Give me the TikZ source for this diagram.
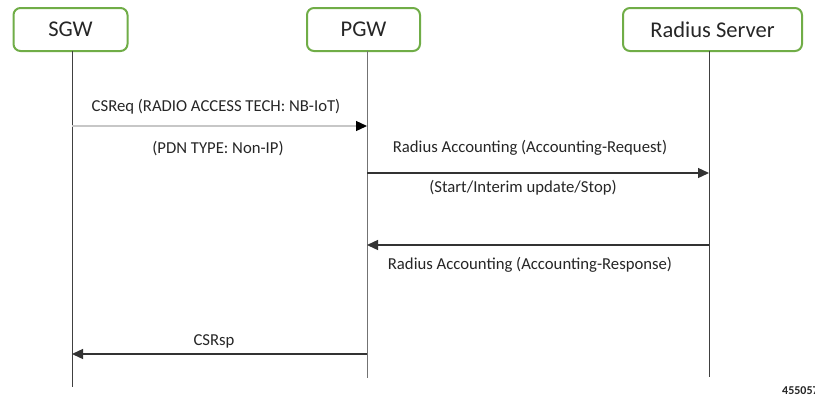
\documentclass[tikz,border=0pt]{standalone}
\usepackage{fontspec}
\setmainfont{Carlito}
\usetikzlibrary{arrows.meta}
\definecolor{boxgreen}{HTML}{70AD47}
\definecolor{txt}{HTML}{262626}
\begin{document}
\begin{tikzpicture}[x=1pt,y=-1pt,
  entity/.style={draw=boxgreen, line width=2pt, rounded corners=7pt, minimum height=43pt,
    inner sep=0pt, font=\fontsize{22.5}{26}\selectfont, text=txt},
  lifeline/.style={draw=black!75, line width=0.9pt},
  msg/.style={draw=black!80, line width=1.3pt, -{Triangle[length=11pt,width=10pt]}},
  lightmsg/.style={draw=black!22, line width=1.3pt, -{Triangle[length=11pt,width=10pt,fill=black,color=black]}},
  lbl/.style={font=\fontsize{16.7}{19}\selectfont, text=txt, inner sep=0pt},
  figid/.style={font=\bfseries\fontsize{12}{14}\selectfont, text=txt, inner sep=0pt, anchor=west}]
\useasboundingbox (0,0) rectangle (815,400);
\fill[white] (0,0) rectangle (815,400);

% entities
\node[entity, minimum width=114pt] (sgw) at (70.5,29.5) {SGW};
\node[entity, minimum width=113pt] (pgw) at (363.5,29.5) {PGW};
\node[entity, minimum width=179pt] (rad) at (712.5,29.5) {Radius Server};

% lifelines
\coordinate (sgwT) at (72,51);  \coordinate (sgwB) at (72,387);
\coordinate (pgwT) at (367,51); \coordinate (pgwB) at (367,378);
\coordinate (radT) at (709,51); \coordinate (radB) at (709,377);
\draw[lifeline] (sgwT) -- (sgwB);
\draw[lifeline, draw=black!55] (pgwT) -- (pgwB);
\draw[lifeline] (radT) -- (radB);

% message end points
\coordinate (m1s) at (72,126);  \coordinate (m1e) at (367,126);
\coordinate (m2s) at (367,173); \coordinate (m2e) at (709,173);
\coordinate (m3s) at (709,245); \coordinate (m3e) at (367,245);
\coordinate (m4s) at (367,354); \coordinate (m4e) at (72,354);

\draw[lightmsg] (m1s) -- (m1e);
\draw[msg] (m2s) -- (m2e);
\draw[msg] (m3s) -- (m3e);
\draw[msg] (m4s) -- (m4e);

% labels
\node[lbl] (l1) at (216,107) {CSReq (RADIO ACCESS TECH: NB-IoT)};
\node[lbl] (l2) at (218,149) {(PDN TYPE: Non-IP)};
\node[lbl] (l3) at (530,148) {Radius Accounting (Accounting-Request)};
\node[lbl] (l4) at (523,188) {(Start/Interim update/Stop)};
\node[lbl] (l5) at (530,265) {Radius Accounting (Accounting-Response)};
\node[lbl] (l6) at (214,341) {CSRsp};
\node[figid] (fid) at (782,391) {455057};
\end{tikzpicture}
\end{document}
